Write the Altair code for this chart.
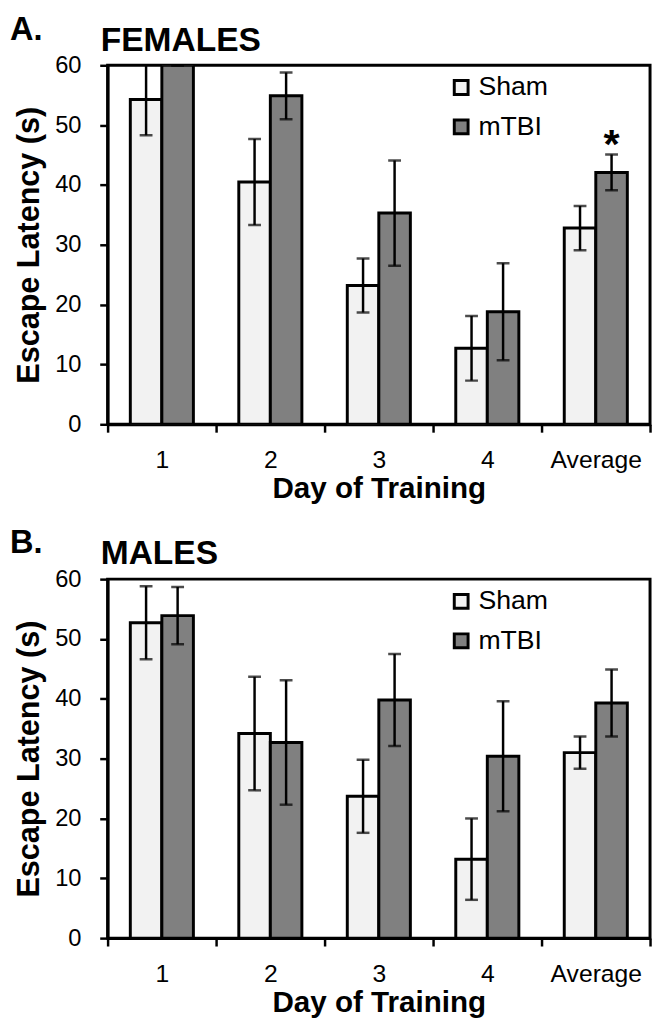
import altair as alt
import pandas as pd

days = ["1", "2", "3", "4", "Average"]
groups = ["Sham", "mTBI"]

fem_sham = [54.3, 40.5, 23.2, 12.7, 32.8]
fem_sham_err = [6.0, 7.2, 4.5, 5.4, 3.7]
fem_mtbi = [60.0, 54.9, 35.3, 18.8, 42.1]
fem_mtbi_err = [0.0, 3.9, 8.8, 8.1, 3.0]
fem_sig = ["", "", "", "", "*"]

male_sham = [52.7, 34.2, 23.7, 13.2, 31.0]
male_sham_err = [6.1, 9.5, 6.1, 6.8, 2.7]
male_mtbi = [53.9, 32.7, 39.8, 30.4, 39.3]
male_mtbi_err = [4.8, 10.4, 7.7, 9.2, 5.6]
male_sig = ["", "", "", "", ""]

FONT = "Liberation Sans"
YTITLE = "Escape Latency (s)"


def make_df(sham, sham_err, mtbi, mtbi_err, sig):
    rows = []
    for i, d in enumerate(days):
        rows.append(dict(day=d, group="Sham", value=sham[i],
                         lo=sham[i] - sham_err[i], hi=sham[i] + sham_err[i], sig=""))
        rows.append(dict(day=d, group="mTBI", value=mtbi[i],
                         lo=mtbi[i] - mtbi_err[i], hi=mtbi[i] + mtbi_err[i], sig=sig[i]))
    return pd.DataFrame(rows)


def panel(df, letter, title):
    x = alt.X("day:N", sort=days, title="Day of Training",
              scale=alt.Scale(paddingInner=0, paddingOuter=0),
              axis=alt.Axis(tickBand="extent", labelAngle=0, tickSize=8, tickWidth=2.5,
                            tickColor="black", domainColor="black", domainWidth=3,
                            labelFontSize=25, labelPadding=16, labelColor="black",
                            titleFontSize=30, titleFontWeight="bold", titlePadding=1,
                            titleColor="black"))
    xo = alt.XOffset("group:N", sort=groups,
                     scale=alt.Scale(paddingInner=0, paddingOuter=0.72))
    yscale = alt.Scale(domain=[0, 60])
    yaxis = alt.Axis(values=[0, 10, 20, 30, 40, 50, 60], tickSize=8, tickWidth=2.5,
                     tickColor="black", domainColor="black", domainWidth=3,
                     labelFontSize=24, labelPadding=19, labelColor="black",
                     titleFontSize=31, titleFontWeight="bold", titlePadding=9,
                     titleColor="black", grid=False)
    base = alt.Chart(df).encode(x=x, xOffset=xo)
    bars = base.mark_bar(stroke="black", strokeWidth=3, clip=True).encode(
        y=alt.Y("value:Q", scale=yscale, axis=yaxis, title=YTITLE),
        color=alt.Color("group:N", sort=groups,
                        scale=alt.Scale(domain=groups, range=["#f2f2f2", "#808080"]),
                        legend=alt.Legend(orient="none", legendX=345, legendY=9,
                                          title=None, symbolType="square", symbolSize=196,
                                          symbolStrokeColor="black", symbolStrokeWidth=3,
                                          labelFontSize=27, labelFont=FONT,
                                          labelColor="black", labelOffset=4,
                                          rowPadding=12, padding=0)),
    )
    rules = base.mark_rule(strokeWidth=2.5, color="black", clip=True).encode(
        y=alt.Y("lo:Q", scale=yscale, title=YTITLE), y2="hi:Q")
    cap_lo = base.mark_tick(size=13, thickness=2.5, color="black", clip=True).encode(
        y=alt.Y("lo:Q", scale=yscale, title=YTITLE))
    cap_hi = base.mark_tick(size=13, thickness=2.5, color="black", clip=True).encode(
        y=alt.Y("hi:Q", scale=yscale, title=YTITLE))
    star = base.mark_text(fontSize=42, fontWeight="bold", font=FONT, baseline="alphabetic",
                          dy=4, color="black").encode(
        y=alt.Y("hi:Q", scale=yscale, title=YTITLE), text="sig:N")
    lab = alt.Chart(pd.DataFrame({"t": [letter]})).mark_text(
        align="left", baseline="alphabetic", fontSize=33, fontWeight="bold",
        font=FONT, color="black").encode(x=alt.value(-99), y=alt.value(-26), text="t:N")
    ttl = alt.Chart(pd.DataFrame({"t": [title]})).mark_text(
        align="left", baseline="alphabetic", fontSize=34, fontWeight="bold",
        font=FONT, color="black").encode(x=alt.value(-7), y=alt.value(-15), text="t:N")
    return alt.layer(bars, rules, cap_lo, cap_hi, star, lab, ttl).properties(
        width=550, height=364)


top = panel(make_df(fem_sham, fem_sham_err, fem_mtbi, fem_mtbi_err, fem_sig), "A.", "FEMALES")
bot = panel(make_df(male_sham, male_sham_err, male_mtbi, male_mtbi_err, male_sig), "B.", "MALES")

chart = alt.vconcat(top, bot, spacing=21).resolve_scale(
    color="independent", x="independent", y="independent", xOffset="independent"
).resolve_legend(color="independent").properties(
    padding={"top": -3, "left": 0, "right": 0, "bottom": 0}
).configure(font=FONT).configure_view(stroke="black", strokeWidth=3).configure_axis(
    labelFont=FONT, titleFont=FONT
)

chart.save("out.html", embed_options={"renderer": "svg", "actions": False})
